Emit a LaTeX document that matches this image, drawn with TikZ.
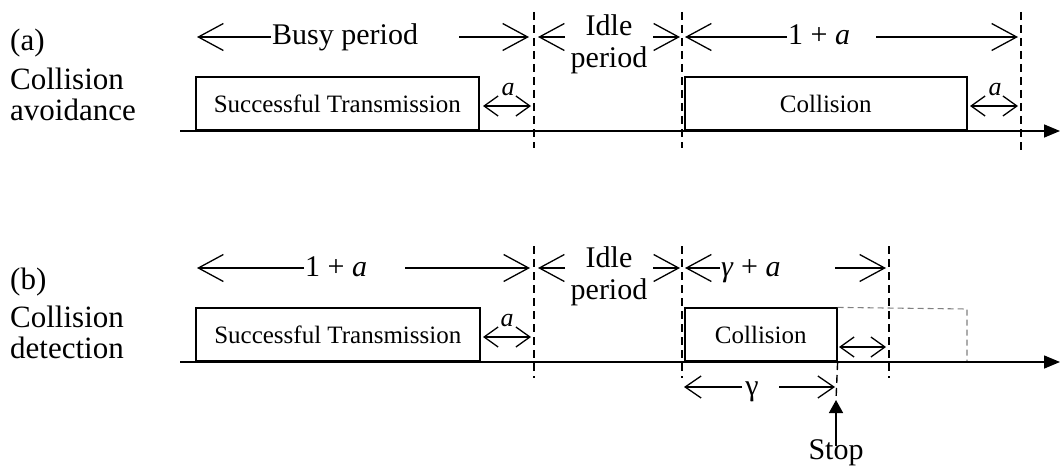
\documentclass[tikz,border=0pt]{standalone}
\usepackage{fontspec}
\setmainfont{Liberation Serif}
\usetikzlibrary{arrows.meta}
\tikzset{
  big/.style={font=\fontsize{30}{34}\selectfont, inner sep=0pt},
  side/.style={font=\fontsize{31}{34}\selectfont, inner sep=0pt},
  lab/.style={font=\fontsize{26}{28}\selectfont\itshape, inner sep=0pt},
  tbox/.style={draw, line width=1.6pt, font=\fontsize{25}{28}\selectfont, inner sep=0pt},
  axisline/.style={line width=1.5pt, -{Triangle[length=16pt,width=13pt]}},
  vdash/.style={line width=1.4pt, dash pattern=on 8pt off 5pt},
  ghost/.style={line width=1.1pt, gray, dash pattern=on 6pt off 4pt},
  lend/.style={line width=1.3pt, -{Straight Barb[length=25pt,width=27pt]}},
  sbar/.style={line width=1.3pt, {Straight Barb[length=14pt,width=20pt]}-{Straight Barb[length=14pt,width=20pt]}},
  gend/.style={line width=1.3pt, -{Straight Barb[length=16pt,width=22pt]}},
  stoparrow/.style={line width=1.5pt, -{Triangle[length=13pt,width=14pt]}}
}
\begin{document}
\begin{tikzpicture}[x=1pt,y=-1pt]
\useasboundingbox (0,0) rectangle (1062,468);

% ---------- left labels ----------
\node[side, anchor=base west] (la1) at (10,51) {(a)};
\node[side, anchor=base west] (la2) at (10,90) {Collision};
\node[side, anchor=base west] (la3) at (10,121) {avoidance};
\node[side, anchor=base west] (lb1) at (10,289) {(b)};
\node[side, anchor=base west] (lb2) at (10,327) {Collision};
\node[side, anchor=base west] (lb3) at (10,358) {detection};

% ================= panel (a) =================
\coordinate (ad1t) at (534,12);  \coordinate (ad1b) at (534,148);
\coordinate (ad2t) at (682,12);  \coordinate (ad2b) at (682,148);
\coordinate (ad3t) at (1021,12); \coordinate (ad3b) at (1021,152);
\draw[vdash] (ad1t) -- (ad1b);
\draw[vdash] (ad2t) -- (ad2b);
\draw[vdash] (ad3t) -- (ad3b);

\node[tbox, minimum width=283pt, minimum height=53pt, anchor=south west] (asucc) at (195,131) {Successful Transmission};
\node[tbox, minimum width=282pt, minimum height=53pt, anchor=south west] (acoll) at (684,131) {Collision};

\coordinate (aax0) at (180,131); \coordinate (aax1) at (1060,131);
\draw[axisline] (aax0) -- (aax1);

% busy period
\node[big, anchor=base west] (busy) at (272,45) {Busy period};
\coordinate (ab1) at (197,37); \coordinate (ab2) at (271,37);
\coordinate (ab3) at (459,37); \coordinate (ab4) at (529,37);
\draw[lend] (ab2) -- (ab1);
\draw[lend] (ab3) -- (ab4);

% idle period
\node[big, anchor=base] (aidle) at (609,36) {Idle};
\node[big, anchor=base] (aper) at (609,68) {period};
\coordinate (ai1) at (538,37); \coordinate (ai2) at (565,37);
\coordinate (ai3) at (653,37); \coordinate (ai4) at (680,37);
\draw[lend] (ai2) -- (ai1);
\draw[lend] (ai3) -- (ai4);

% 1 + a
\node[big, anchor=base west] (aone) at (788,45) {1 + \textit{a}};
\coordinate (ao1) at (685,37); \coordinate (ao2) at (787,37);
\coordinate (ao3) at (876,37); \coordinate (ao4) at (1018,37);
\draw[lend] (ao2) -- (ao1);
\draw[lend] (ao3) -- (ao4);

% a arrows
\coordinate (aa1) at (483,106); \coordinate (aa2) at (531,106);
\draw[sbar] (aa1) -- (aa2);
\node[lab] (aal) at (508,90) {a};
\coordinate (aa3) at (970,106); \coordinate (aa4) at (1018,106);
\draw[sbar] (aa3) -- (aa4);
\node[lab] (aal2) at (995,90) {a};

% ================= panel (b) =================
\coordinate (bd1t) at (534,246); \coordinate (bd1b) at (534,378);
\coordinate (bd2t) at (682,246); \coordinate (bd2b) at (682,378);
\coordinate (bd3t) at (889,246); \coordinate (bd3b) at (889,378);
\draw[vdash] (bd1t) -- (bd1b);
\draw[vdash] (bd2t) -- (bd2b);
\draw[vdash] (bd3t) -- (bd3b);

\node[tbox, minimum width=284pt, minimum height=53pt, anchor=south west] (bsucc) at (195,362) {Successful Transmission};
\node[tbox, minimum width=152pt, minimum height=53pt, anchor=south west] (bcoll) at (684,362) {Collision};

% ghost (dashed) continuation of the collision
\coordinate (bg1) at (967,309); \coordinate (bg2) at (967,362);
\draw[ghost] (bcoll.north east) -- (bg1) -- (bg2);

\coordinate (bax0) at (180,362); \coordinate (bax1) at (1060,362);
\draw[axisline] (bax0) -- (bax1);

% 1 + a
\node[big, anchor=base west] (bone) at (305,276) {1 + \textit{a}};
\coordinate (bo1) at (197,268); \coordinate (bo2) at (304,268);
\coordinate (bo3) at (405,268); \coordinate (bo4) at (530,268);
\draw[lend] (bo2) -- (bo1);
\draw[lend] (bo3) -- (bo4);

% idle period
\node[big, anchor=base] (bidle) at (609,267) {Idle};
\node[big, anchor=base] (bper) at (609,299) {period};
\coordinate (bi1) at (538,268); \coordinate (bi2) at (565,268);
\coordinate (bi3) at (653,268); \coordinate (bi4) at (680,268);
\draw[lend] (bi2) -- (bi1);
\draw[lend] (bi3) -- (bi4);

% gamma + a
\node[big, anchor=base west] (bga) at (721,276) {\textit{γ} + \textit{a}};
\coordinate (bg3) at (685,268); \coordinate (bg4) at (720,268);
\coordinate (bg5) at (835,268); \coordinate (bg6) at (886,268);
\draw[lend] (bg4) -- (bg3);
\draw[lend] (bg5) -- (bg6);

% a arrow
\coordinate (ba1) at (483,337); \coordinate (ba2) at (531,337);
\draw[sbar] (ba1) -- (ba2);
\node[lab] (bal) at (507,321) {a};

% unlabeled double arrow
\coordinate (bb1) at (839,347); \coordinate (bb2) at (886,347);
\draw[sbar] (bb1) -- (bb2);

% gamma
\node[big, anchor=base] (bgam) at (752,395) {γ};
\coordinate (bc1) at (684,387); \coordinate (bc2) at (742,387);
\coordinate (bc3) at (779,387); \coordinate (bc4) at (835,387);
\draw[gend] (bc2) -- (bc1);
\draw[gend] (bc3) -- (bc4);

% stop
\coordinate (bs0) at (836,400);
\draw[vdash] (bcoll.south east) -- (bs0);
\node[big, anchor=base] (stop) at (836,459) {Stop};
\coordinate (bs1) at (836,446);
\draw[stoparrow] (bs1) -- (bs0);
\end{tikzpicture}
\end{document}
